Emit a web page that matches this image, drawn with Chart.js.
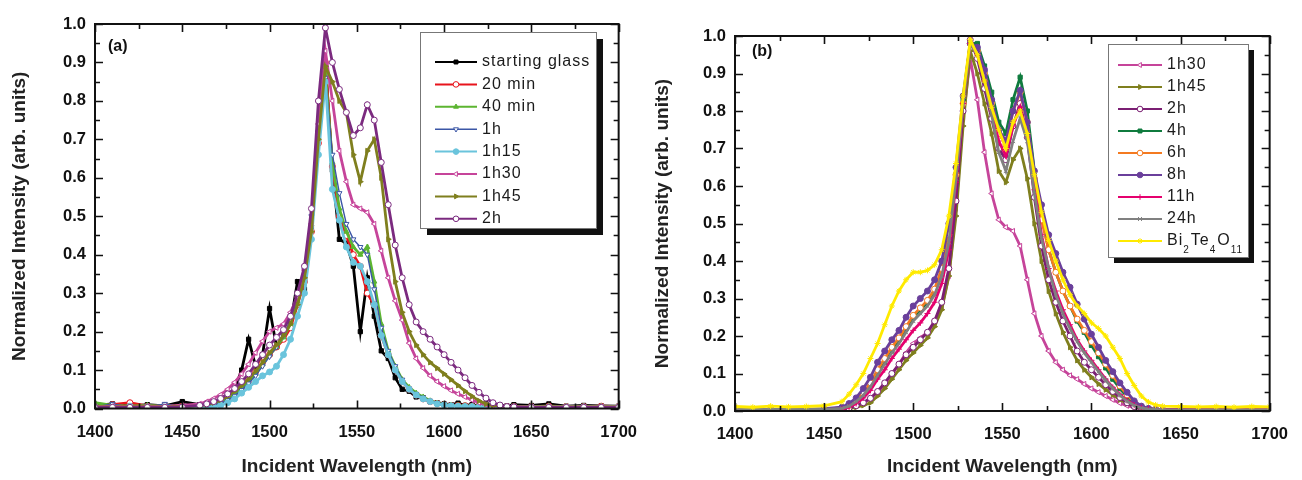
<!DOCTYPE html>
<html>
<head>
<meta charset="utf-8">
<script src="https://cdn.jsdelivr.net/npm/chart.js@4.4.1/dist/chart.umd.min.js"></script>
<style>
  body { margin: 0; background: #fff; width: 1302px; height: 480px; overflow: hidden; position: relative; }
  canvas { position: absolute; top: 0; }
</style>
</head>
<body>
<canvas id="chartA" width="651" height="480" style="left:0px"></canvas>
<canvas id="chartB" width="651" height="480" style="left:651px"></canvas>
<script>
// wavelength grid (nm). rows below: 1400-1450 | 1460-1496 | 1500-1536 | 1540-1576 | 1580-1616 | 1620-1640 | 1650-1700
const wavelength = [1400,1410,1420,1430,1440,1450,
  1460,1464,1468,1472,1476,1480,1484,1488,1492,1496,
  1500,1504,1508,1512,1516,1520,1524,1528,1532,1536,
  1540,1544,1548,1552,1556,1560,1564,1568,1572,1576,
  1580,1584,1588,1592,1596,1600,1604,1608,1612,1616,
  1620,1624,1628,1632,1636,1640,
  1650,1660,1670,1680,1690,1700];

const xTickLabels = ['1400','1450','1500','1550','1600','1650','1700'];
const yTickLabels = ['0.0','0.1','0.2','0.3','0.4','0.5','0.6','0.7','0.8','0.9','1.0'];

// ---- panel (a) ----
const labelsA = ['starting glass','20 min','40 min','1h','1h15','1h30','1h45','2h'];
const colorsA = ['#000000','#e8141c','#5cb531','#3b56a6','#6ac4dc','#c6449a','#7f7f1e','#7b2a7f'];
const stylesA = ['rect','circle','triangle','triangle','circle','triangle','triangle','circle'];
const rotA    = [0,0,0,180,0,-90,90,0];
const openA   = [false,true,false,true,false,true,false,true];

const glassA = [0.008,0.012,0.006,0.010,0.007,0.018,
  0.010,0.012,0.015,0.022,0.035,0.050,0.100,0.180,0.110,0.140,
  0.260,0.160,0.190,0.220,0.330,0.310,0.470,0.700,0.900,0.620,
  0.440,0.430,0.370,0.200,0.340,0.240,0.150,0.130,0.080,0.050,
  0.045,0.030,0.028,0.018,0.015,0.012,0.010,0.014,0.008,0.010,
  0.007,0.012,0.006,0.009,0.007,0.010,
  0.008,0.012,0.006,0.008,0.007,0.006];
const min20A = [0.006,0.010,0.015,0.006,0.008,0.006,
  0.006,0.008,0.012,0.018,0.028,0.040,0.055,0.075,0.095,0.120,
  0.140,0.160,0.180,0.210,0.270,0.330,0.460,0.690,0.900,0.630,
  0.500,0.450,0.400,0.370,0.300,0.270,0.190,0.140,0.100,0.070,
  0.050,0.035,0.025,0.018,0.013,0.010,0.008,0.008,0.007,0.006,
  0.006,0.006,0.005,0.006,0.005,0.005,
  0.005,0.006,0.005,0.005,0.006,0.005];
const min40A = [0.015,0.008,0.006,0.008,0.006,0.006,
  0.005,0.007,0.010,0.016,0.025,0.037,0.052,0.070,0.090,0.115,
  0.140,0.160,0.185,0.220,0.280,0.340,0.480,0.700,0.870,0.640,
  0.520,0.460,0.420,0.400,0.420,0.330,0.220,0.150,0.110,0.075,
  0.055,0.040,0.030,0.020,0.014,0.011,0.009,0.008,0.007,0.006,
  0.006,0.005,0.005,0.005,0.005,0.005,
  0.005,0.006,0.005,0.005,0.005,0.005];
const h1A = [0.004,0.012,0.004,0.004,0.012,0.004,
  0.005,0.006,0.009,0.014,0.022,0.033,0.048,0.065,0.085,0.110,
  0.135,0.160,0.190,0.230,0.290,0.360,0.500,0.720,0.860,0.660,
  0.560,0.480,0.440,0.420,0.400,0.310,0.210,0.150,0.110,0.075,
  0.052,0.038,0.028,0.020,0.014,0.011,0.009,0.007,0.006,0.006,
  0.005,0.005,0.005,0.004,0.004,0.004,
  0.004,0.004,0.004,0.004,0.004,0.004];
const h1m15A = [0.004,0.004,0.006,0.004,0.004,0.004,
  0.002,0.003,0.004,0.008,0.015,0.025,0.040,0.055,0.070,0.085,
  0.095,0.110,0.140,0.180,0.240,0.300,0.440,0.660,0.850,0.570,
  0.490,0.420,0.380,0.370,0.330,0.270,0.190,0.140,0.100,0.070,
  0.050,0.035,0.025,0.018,0.012,0.009,0.007,0.006,0.005,0.005,
  0.004,0.004,0.004,0.004,0.004,0.004,
  0.004,0.004,0.004,0.004,0.004,0.004];
const h1m30A = [0.005,0.006,0.005,0.006,0.005,0.008,
  0.012,0.018,0.026,0.036,0.050,0.068,0.090,0.115,0.145,0.175,
  0.200,0.210,0.220,0.250,0.290,0.360,0.480,0.740,0.930,0.800,
  0.670,0.590,0.530,0.520,0.510,0.480,0.410,0.340,0.280,0.230,
  0.170,0.130,0.105,0.085,0.070,0.058,0.047,0.038,0.030,0.022,
  0.015,0.010,0.007,0.006,0.005,0.005,
  0.004,0.004,0.004,0.004,0.004,0.004];
const h1m45A = [0.004,0.004,0.005,0.004,0.004,0.005,
  0.007,0.010,0.015,0.022,0.032,0.045,0.060,0.077,0.097,0.120,
  0.145,0.165,0.190,0.220,0.270,0.340,0.460,0.700,0.890,0.850,
  0.800,0.770,0.660,0.590,0.670,0.700,0.600,0.440,0.330,0.250,
  0.200,0.165,0.140,0.120,0.105,0.090,0.075,0.060,0.045,0.032,
  0.020,0.012,0.008,0.006,0.005,0.004,
  0.004,0.004,0.004,0.004,0.004,0.004];
const h2A = [0.003,0.003,0.003,0.003,0.003,0.004,
  0.008,0.012,0.018,0.026,0.038,0.052,0.070,0.090,0.115,0.140,
  0.165,0.185,0.205,0.240,0.300,0.370,0.520,0.800,0.990,0.900,
  0.830,0.770,0.710,0.730,0.790,0.750,0.640,0.530,0.425,0.340,
  0.270,0.225,0.200,0.180,0.160,0.140,0.120,0.100,0.080,0.060,
  0.042,0.027,0.015,0.009,0.005,0.004,
  0.003,0.003,0.003,0.003,0.003,0.003];
const valuesA = [glassA, min20A, min40A, h1A, h1m15A, h1m30A, h1m45A, h2A];

// ---- panel (b) ----
const labelsB = ['1h30','1h45','2h','4h','6h','8h','11h','24h','Bi2Te4O11'];
const colorsB = ['#c6449a','#7f7f1e','#7b1f73','#0f7b3e','#f47a20','#6a3f9b','#e5006e','#808080','#ffea00'];
const stylesB = ['triangle','triangle','circle','rect','circle','circle','cross','crossRot','star'];
const rotB    = [-90,90,0,0,0,0,0,0,0];
const openB   = [true,false,true,false,true,false,false,false,false];

const h1m30B = [0.003,0.004,0.003,0.004,0.003,0.004,
  0.005,0.009,0.014,0.022,0.033,0.050,0.070,0.095,0.125,0.155,
  0.180,0.195,0.210,0.235,0.275,0.360,0.540,0.780,0.940,0.830,
  0.690,0.580,0.510,0.490,0.480,0.440,0.350,0.260,0.200,0.160,
  0.130,0.110,0.095,0.085,0.072,0.060,0.050,0.040,0.030,0.021,
  0.014,0.009,0.006,0.004,0.003,0.003,
  0.003,0.003,0.003,0.003,0.003,0.003];
const h1m45B = [0.003,0.003,0.004,0.003,0.003,0.003,
  0.003,0.006,0.010,0.015,0.022,0.040,0.060,0.085,0.110,0.135,
  0.155,0.175,0.195,0.225,0.270,0.360,0.520,0.760,0.960,0.900,
  0.820,0.740,0.640,0.610,0.670,0.700,0.620,0.500,0.400,0.320,
  0.260,0.210,0.170,0.135,0.110,0.090,0.072,0.057,0.043,0.030,
  0.020,0.012,0.007,0.005,0.004,0.003,
  0.003,0.003,0.003,0.003,0.003,0.003];
const h2B = [0.004,0.004,0.004,0.004,0.004,0.004,
  0.004,0.008,0.014,0.022,0.034,0.052,0.075,0.100,0.125,0.150,
  0.170,0.190,0.210,0.240,0.290,0.380,0.560,0.800,0.990,0.940,
  0.860,0.780,0.700,0.670,0.760,0.820,0.730,0.570,0.440,0.350,
  0.290,0.240,0.200,0.160,0.130,0.110,0.090,0.070,0.052,0.036,
  0.022,0.012,0.007,0.005,0.004,0.003,
  0.003,0.003,0.003,0.003,0.003,0.003];
const h4B = [0.004,0.004,0.004,0.004,0.004,0.005,
  0.008,0.015,0.027,0.045,0.070,0.100,0.130,0.160,0.190,0.220,
  0.250,0.270,0.290,0.320,0.370,0.470,0.630,0.830,0.980,0.980,
  0.920,0.850,0.770,0.740,0.830,0.890,0.800,0.640,0.520,0.430,
  0.370,0.320,0.280,0.240,0.210,0.175,0.145,0.115,0.085,0.060,
  0.038,0.020,0.010,0.006,0.004,0.003,
  0.003,0.003,0.003,0.003,0.003,0.003];
const h6B = [0.004,0.004,0.004,0.004,0.004,0.005,
  0.008,0.015,0.028,0.048,0.075,0.110,0.140,0.170,0.195,0.225,
  0.255,0.275,0.295,0.325,0.380,0.470,0.630,0.820,0.980,0.960,
  0.900,0.820,0.740,0.710,0.800,0.850,0.770,0.620,0.510,0.430,
  0.370,0.320,0.280,0.245,0.215,0.185,0.155,0.125,0.095,0.067,
  0.043,0.024,0.012,0.006,0.004,0.003,
  0.003,0.003,0.003,0.003,0.003,0.003];
const h8B = [0.004,0.004,0.004,0.004,0.004,0.006,
  0.010,0.020,0.035,0.060,0.090,0.130,0.160,0.190,0.215,0.250,
  0.280,0.300,0.320,0.350,0.400,0.500,0.650,0.840,0.980,0.970,
  0.910,0.830,0.750,0.720,0.800,0.855,0.770,0.640,0.550,0.470,
  0.420,0.370,0.330,0.285,0.245,0.205,0.170,0.135,0.105,0.075,
  0.050,0.027,0.013,0.007,0.004,0.003,
  0.003,0.003,0.003,0.003,0.003,0.003];
const h11B = [0.004,0.004,0.004,0.004,0.004,0.004,
  0.005,0.010,0.020,0.035,0.055,0.085,0.110,0.140,0.165,0.190,
  0.215,0.235,0.260,0.290,0.340,0.430,0.610,0.820,0.980,0.950,
  0.880,0.800,0.720,0.680,0.760,0.810,0.730,0.590,0.470,0.380,
  0.320,0.270,0.230,0.190,0.160,0.135,0.110,0.085,0.063,0.044,
  0.028,0.016,0.008,0.005,0.004,0.003,
  0.003,0.003,0.003,0.003,0.003,0.003];
const h24B = [0.004,0.004,0.004,0.004,0.004,0.004,
  0.007,0.013,0.025,0.042,0.065,0.095,0.125,0.155,0.180,0.210,
  0.240,0.260,0.280,0.310,0.360,0.450,0.620,0.820,0.980,0.950,
  0.880,0.790,0.690,0.640,0.720,0.780,0.720,0.580,0.460,0.380,
  0.310,0.260,0.220,0.185,0.155,0.130,0.105,0.082,0.060,0.042,
  0.026,0.015,0.008,0.005,0.004,0.003,
  0.003,0.003,0.003,0.003,0.003,0.003];
const bitB = [0.012,0.010,0.013,0.011,0.012,0.014,
  0.025,0.045,0.070,0.100,0.140,0.180,0.230,0.280,0.320,0.350,
  0.370,0.370,0.375,0.390,0.430,0.520,0.660,0.840,0.990,0.950,
  0.880,0.810,0.750,0.700,0.770,0.800,0.740,0.630,0.530,0.455,
  0.400,0.350,0.310,0.280,0.260,0.235,0.220,0.200,0.170,0.140,
  0.100,0.068,0.040,0.024,0.016,0.013,
  0.012,0.011,0.012,0.010,0.012,0.011];
const valuesB = [h1m30B, h1m45B, h2B, h4B, h6B, h8B, h11B, h24B, bitB];

const FONT = "'Liberation Sans', Arial, sans-serif";
Chart.defaults.font.family = FONT;
Chart.defaults.color = '#111';

function buildDatasets(labels, values, colors, styles, rots, open) {
  return labels.map((label, i) => ({
    label: label,
    data: wavelength.map((w, k) => ({x: w, y: values[i][k]})),
    borderColor: colors[i],
    backgroundColor: colors[i],
    borderWidth: label === '1h' ? 1.4 : 2.8,
    pointStyle: styles[i],
    pointRotation: rots[i],
    pointRadius: 3,
    pointBorderWidth: 1,
    pointBorderColor: colors[i],
    pointBackgroundColor: open[i] ? '#ffffff' : colors[i],
    formula: label === 'Bi2Te4O11',
    tension: 0,
    order: labels.length - i
  }));
}

// frame with inward major/minor ticks on all four sides
const frameTicks = {
  id: 'frameTicks',
  afterDatasetsDraw(chart) {
    const {ctx, chartArea: a, scales: {x, y}} = chart;
    ctx.save();
    ctx.strokeStyle = '#111';
    ctx.lineWidth = 1.6;
    ctx.beginPath();
    for (let v = 1400; v <= 1700; v += 25) {
      const px = Math.round(x.getPixelForValue(v)) + 0.5;
      const len = v % 50 === 0 ? 8 : 5;
      ctx.moveTo(px, a.bottom); ctx.lineTo(px, a.bottom - len);
      ctx.moveTo(px, a.top); ctx.lineTo(px, a.top + len);
    }
    for (let k = 0; k <= 20; k++) {
      const py = Math.round(y.getPixelForValue(k * 0.05)) + 0.5;
      const len = k % 2 === 0 ? 8 : 5;
      ctx.moveTo(a.left, py); ctx.lineTo(a.left + len, py);
      ctx.moveTo(a.right, py); ctx.lineTo(a.right - len, py);
    }
    ctx.stroke();
    ctx.lineWidth = 2;
    ctx.strokeRect(a.left, a.top, a.right - a.left, a.bottom - a.top);
    ctx.restore();
  }
};

// boxed legend with drop shadow + panel tag
const boxLegend = {
  id: 'boxLegend',
  afterDraw(chart, args, o) {
    const ctx = chart.ctx;
    ctx.save();
    ctx.fillStyle = '#111';
    ctx.fillRect(o.left + o.shadow, o.top + o.shadow, o.width, o.height);
    ctx.fillStyle = '#fff';
    ctx.fillRect(o.left, o.top, o.width, o.height);
    ctx.strokeStyle = '#777';
    ctx.lineWidth = 1;
    ctx.strokeRect(o.left + 0.5, o.top + 0.5, o.width, o.height);

    chart.data.datasets.forEach((ds, i) => {
      const yy = o.rowTop + i * o.rowH;
      ctx.strokeStyle = ds.borderColor;
      ctx.lineWidth = Math.min(ds.borderWidth, 2);
      ctx.beginPath();
      ctx.moveTo(o.x0, yy); ctx.lineTo(o.x1, yy);
      ctx.stroke();
      ctx.fillStyle = ds.pointBackgroundColor;
      ctx.lineWidth = 1;
      Chart.helpers.drawPoint(ctx, {pointStyle: ds.pointStyle, rotation: ds.pointRotation, radius: 2.8, borderWidth: 1}, (o.x0 + o.x1) / 2, yy);

      ctx.fillStyle = '#1a1a1a';
      ctx.textBaseline = 'middle';
      ctx.textAlign = 'left';
      ctx.letterSpacing = '1px';
      if (ds.formula) {
        let tx = o.tx;
        for (const part of ds.label.match(/[A-Za-z]+|\d+/g)) {
          const sub = /\d/.test(part);
          ctx.font = (sub ? '10px ' : '16px ') + FONT;
          ctx.fillText(part, tx, sub ? yy + 9 : yy);
          tx += ctx.measureText(part).width + (sub ? 1 : 0);
        }
      } else {
        ctx.font = '16px ' + FONT;
        ctx.fillText(ds.label, o.tx, yy);
      }
    });

    ctx.letterSpacing = '0px';
    ctx.font = 'bold 16px ' + FONT;
    ctx.fillStyle = '#111';
    ctx.fillText(o.tag, o.tagX, o.tagY);
    ctx.restore();
  }
};

function makeChart(id, datasets, geom, legend) {
  return new Chart(document.getElementById(id), {
    type: 'line',
    data: {datasets: datasets},
    plugins: [frameTicks, boxLegend],
    options: {
      responsive: false,
      animation: false,
      devicePixelRatio: 1,
      layout: {padding: {top: geom.top, right: geom.right, left: 0, bottom: 0}},
      plugins: {legend: {display: false}, tooltip: {enabled: false}, boxLegend: legend},
      scales: {
        x: {
          type: 'linear', min: 1400, max: 1700,
          afterFit: s => { s.height = geom.xh; },
          grid: {display: false, drawTicks: false},
          border: {display: false},
          ticks: {stepSize: 50, maxRotation: 0, padding: 14, color: '#111',
                  font: {size: 16.5, weight: 'bold'},
                  callback: (v, i) => xTickLabels[i]},
          title: {display: true, text: 'Incident Wavelength (nm)', color: '#222',
                  font: {size: 19, weight: 'bold'}, padding: {top: 0, bottom: 2}}
        },
        y: {
          min: 0, max: 1,
          afterFit: s => { s.width = geom.yw; },
          grid: {display: false, drawTicks: false},
          border: {display: false},
          ticks: {stepSize: 0.1, padding: 9, color: '#111',
                  font: {size: 16.5, weight: 'bold'},
                  callback: (v, i) => yTickLabels[i]},
          title: {display: true, text: 'Normalized Intensity (arb. units)', color: '#222',
                  font: {size: 19, weight: 'bold'}, padding: {top: geom.ytp, bottom: 0}}
        }
      }
    }
  });
}

makeChart('chartA', buildDatasets(labelsA, valuesA, colorsA, stylesA, rotA, openA),
  {top: 24, right: 32, xh: 71.5, yw: 95, ytp: 8},
  {left: 420, top: 32, width: 176, height: 196, shadow: 7,
   rowTop: 62, rowH: 22.4, x0: 435, x1: 477, tx: 482,
   tag: '(a)', tagX: 108, tagY: 47});

makeChart('chartB', buildDatasets(labelsB, valuesB, colorsB, stylesB, rotB, openB),
  {top: 36, right: 30, xh: 69, yw: 84, ytp: 0},
  {left: 457, top: 44, width: 140, height: 213, shadow: 6,
   rowTop: 65, rowH: 22, x0: 467, x1: 511, tx: 516,
   tag: '(b)', tagX: 101, tagY: 52});
</script>
</body>
</html>
